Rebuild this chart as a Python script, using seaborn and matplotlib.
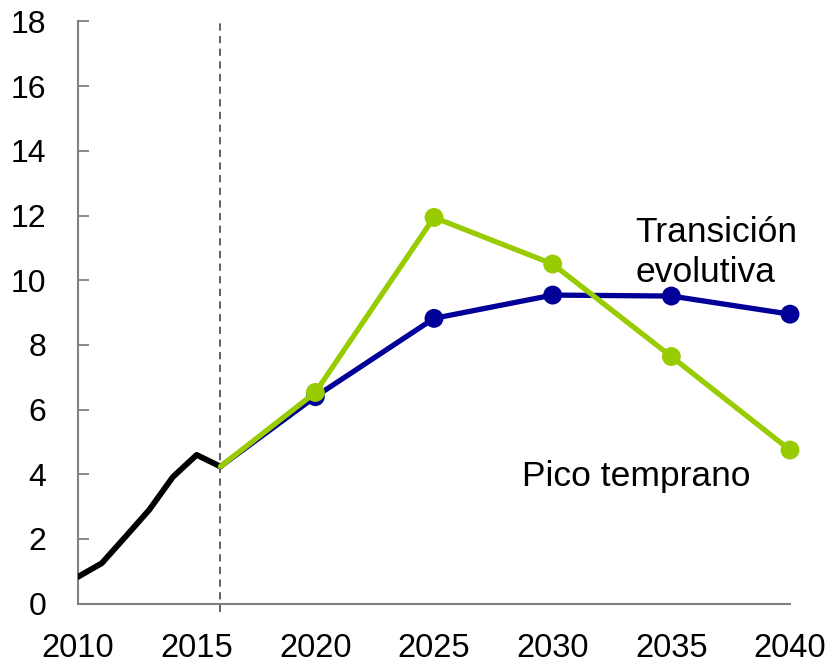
import matplotlib
matplotlib.use("Agg")
import matplotlib.pyplot as plt
import seaborn as sns
import pandas as pd

# Data
years_hist = [2010, 2011, 2012, 2013, 2014, 2015, 2016]
hist_values = [0.83, 1.25, 2.07, 2.90, 3.92, 4.60, 4.24]
years_proj = [2016, 2020, 2025, 2030, 2035, 2040]
transicion = [4.24, 6.40, 8.82, 9.54, 9.51, 8.95]
pico = [4.24, 6.53, 11.94, 10.50, 7.64, 4.75]
x_ticks = [2010, 2015, 2020, 2025, 2030, 2035, 2040]
y_ticks = [0, 2, 4, 6, 8, 10, 12, 14, 16, 18]

sns.set_style("white")
plt.rcParams['font.family'] = ['Liberation Sans', 'DejaVu Sans']

BLUE = "#000099"
GREEN = "#99CC00"
GRAY = "#808080"

fig = plt.figure(figsize=(8.34, 6.63), dpi=100)
ax = fig.add_axes([78/834, 1 - 603.7/663, (790-78)/834, (603.7-21.4)/663])

df_hist = pd.DataFrame({"year": years_hist, "value": hist_values})
df_t = pd.DataFrame({"year": years_proj, "value": transicion})
df_p = pd.DataFrame({"year": years_proj, "value": pico})

ax.axvline(2016, ymin=-0.015, ymax=1, color="#555555", lw=1.3, ls=(0, (4, 3)), clip_on=False, zorder=1)

sns.lineplot(data=df_hist, x="year", y="value", ax=ax, color="black", lw=4.2, zorder=3)
sns.lineplot(data=df_t, x="year", y="value", ax=ax, color=BLUE, lw=3.8, zorder=4, clip_on=False)
sns.scatterplot(data=df_t.iloc[1:], x="year", y="value", ax=ax, color=BLUE, s=185,
                edgecolor="none", zorder=5, clip_on=False)
sns.lineplot(data=df_p, x="year", y="value", ax=ax, color=GREEN, lw=3.8, zorder=6, clip_on=False)
sns.scatterplot(data=df_p.iloc[1:], x="year", y="value", ax=ax, color=GREEN, s=185,
                edgecolor="none", zorder=7, clip_on=False)

ax.set_xlim(2010, 2040)
ax.set_ylim(0, 18)
ax.set_xticks(x_ticks)
ax.set_yticks(y_ticks)
ax.set_xticklabels([str(v) for v in x_ticks], fontsize=23.5)
ax.set_yticklabels([str(v) for v in y_ticks], fontsize=23)
ax.tick_params(axis="y", direction="in", length=8, width=1.3, color=GRAY, pad=23,
               left=True, labelcolor="black")
ax.tick_params(axis="x", length=0, pad=21, labelcolor="black")
ax.set_xlabel("")
ax.set_ylabel("")

for s in ["top", "right"]:
    ax.spines[s].set_visible(False)
for s in ["left", "bottom"]:
    ax.spines[s].set_color(GRAY)
    ax.spines[s].set_linewidth(1.5)

ax.text(2033.47, 11.19, "Transición", fontsize=25.5, color="black", va="baseline", ha="left")
ax.text(2033.47, 9.95, "evolutiva", fontsize=25.5, color="black", va="baseline", ha="left")
ax.text(2028.71, 3.64, "Pico temprano", fontsize=25.5, color="black", va="baseline", ha="left")

fig.savefig("out.png", dpi=100)
